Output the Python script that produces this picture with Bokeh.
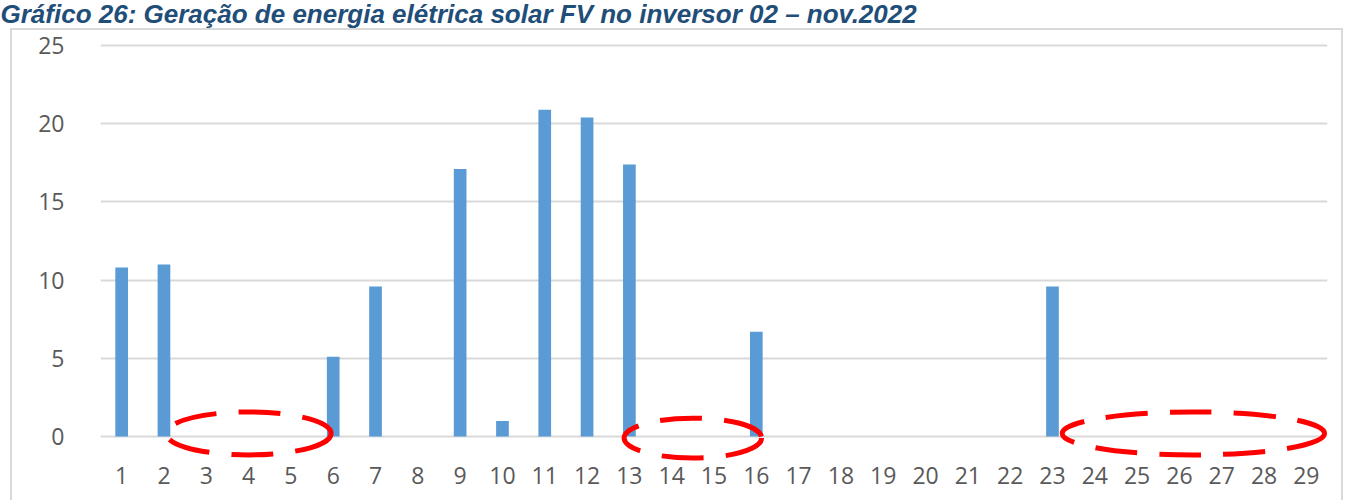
from bokeh.plotting import figure
from bokeh.layouts import column
from bokeh.models import Range1d, FixedTicker
from bokeh.embed import file_html
from bokeh.resources import INLINE

# ---- data ----
days = list(range(1, 30))
energy = [10.8, 11.0, 0, 0, 0, 5.1, 9.6, 0, 17.1, 1.0,
          20.9, 20.4, 17.4, 0, 0, 6.7, 0, 0, 0, 0,
          0, 0, 9.6, 0, 0, 0, 0, 0, 0]
y_ticks = [0, 5, 10, 15, 20, 25]
x_ticks = days
title_text = "Gráfico 26: Geração de energia elétrica solar FV no inversor 02 – nov.2022"

# highlighted periods without generation (red dashed ellipses)
hl_x = [4.0, 14.5, 26.33]
hl_y = [0.2, -0.1, 0.2]
hl_w = [3.9, 3.25, 6.2]
hl_h = [2.75, 2.55, 2.75]

# ---- title strip ----
TW, TH = 1349, 28
pt = figure(width=TW, height=TH, output_backend="svg", toolbar_location=None,
            x_axis_location=None, y_axis_location=None,
            min_border_left=0, min_border_right=0, min_border_top=0,
            min_border_bottom=0, x_range=Range1d(0, 1), y_range=Range1d(0, 1))
pt.title.text = title_text
pt.title.text_font = "Liberation Sans"
pt.title.text_font_size = "26px"
pt.title.text_font_style = "bold italic"
pt.title.text_color = "#1F4E79"
pt.title.offset = -88
pt.title.standoff = 0
pt.grid.visible = False
pt.outline_line_color = None

# ---- main chart ----
W, H = 1333, 472
p = figure(width=W, height=H, output_backend="svg", toolbar_location=None,
           x_range=Range1d(0.5, 29.5), y_range=Range1d(-1.66, 25.32),
           min_border_left=88, min_border_right=18, min_border_top=10,
           min_border_bottom=40)
p.margin = (0, 0, 0, 10)
p.styles = {"border-top": "2px solid #D9D9D9",
            "border-left": "2px solid #D9D9D9",
            "border-right": "2px solid #D9D9D9"}

p.vbar(x=days, top=energy, width=0.3, fill_color="#5B9BD5", line_color=None)

p.ellipse(x=hl_x, y=hl_y, width=hl_w, height=hl_h, fill_alpha=0,
          line_color="#FF0000", line_width=5, line_dash="42 22")

p.outline_line_color = None
p.xgrid.grid_line_color = None
p.ygrid.grid_line_color = "#D9D9D9"
p.ygrid.grid_line_width = 2
p.yaxis.ticker = FixedTicker(ticks=y_ticks)
p.xaxis.ticker = FixedTicker(ticks=x_ticks)

for ax in (p.xaxis[0], p.yaxis[0]):
    ax.axis_line_color = None
    ax.major_tick_line_color = None
    ax.minor_tick_line_color = None
    ax.major_label_text_font = "Open Sans"
    ax.major_label_text_font_size = "23px"
    ax.major_label_text_color = "#595959"
p.yaxis.major_label_standoff = 30
p.xaxis.major_label_standoff = -2

layout = column(pt, p, spacing=0)
open("out.html", "w").write(file_html(layout, INLINE))
